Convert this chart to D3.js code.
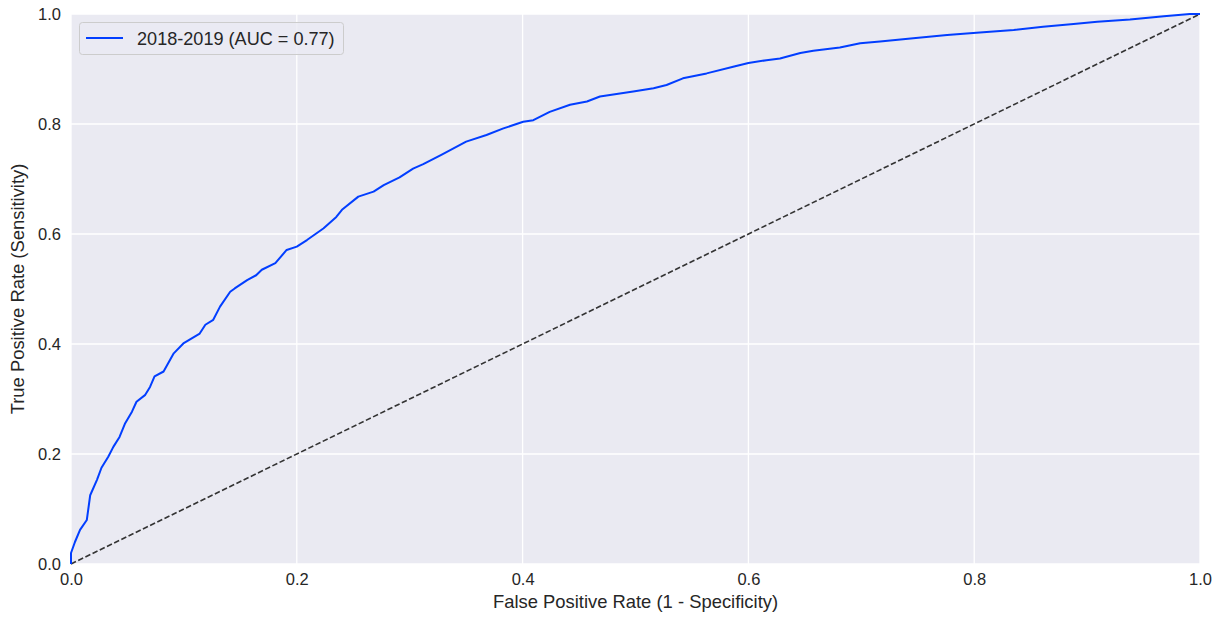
<!DOCTYPE html>
<html>
<head>
<meta charset="utf-8">
<script src="https://cdn.jsdelivr.net/npm/d3@7/dist/d3.min.js"></script>
<style>
  html, body { margin: 0; padding: 0; background: #ffffff; }
  svg { display: block; font-family: "Liberation Sans", Arial, sans-serif; }
</style>
</head>
<body>
<svg id="chart" width="1225" height="617"></svg>
<script>
// ROC curve points
const fpr = [0,0,0.0035,0.008,0.014,0.017,0.023,0.027,0.033,0.0375,0.043,0.048,0.054,0.058,0.0655,0.07,0.074,0.082,0.091,0.0995,0.114,0.119,0.126,0.132,0.141,0.145,0.156,0.164,0.169,0.181,0.191,0.2,0.209,0.2235,0.235,0.24,0.2545,0.268,0.277,0.291,0.303,0.312,0.328,0.35,0.368,0.383,0.4005,0.4095,0.424,0.442,0.457,0.4685,0.498,0.516,0.5275,0.542,0.563,0.5865,0.6,0.616,0.628,0.646,0.6575,0.681,0.699,0.7166,0.746,0.776,0.802,0.835,0.861,0.888,0.909,0.938,0.968,0.991,1];
const tpr = [0,0.02,0.04,0.062,0.08,0.125,0.153,0.175,0.195,0.213,0.231,0.256,0.277,0.295,0.307,0.322,0.341,0.35,0.383,0.401,0.419,0.435,0.444,0.468,0.495,0.501,0.516,0.525,0.535,0.547,0.571,0.577,0.589,0.61,0.631,0.644,0.668,0.677,0.689,0.703,0.719,0.727,0.744,0.768,0.78,0.792,0.804,0.807,0.822,0.835,0.841,0.85,0.859,0.865,0.871,0.883,0.892,0.904,0.911,0.916,0.919,0.929,0.933,0.939,0.947,0.950,0.956,0.962,0.966,0.971,0.977,0.982,0.986,0.990,0.996,1.0,1];
const chanceX = [0, 1];
const chanceY = [0, 1];
const xTicks = [0, 0.2, 0.4, 0.6, 0.8, 1.0];
const yTicks = [0, 0.2, 0.4, 0.6, 0.8, 1.0];
const seriesLabel = "2018-2019 (AUC = 0.77)";
const xLabel = "False Positive Rate (1 - Specificity)";
const yLabel = "True Positive Rate (Sensitivity)";

const svg = d3.select("#chart");
const margin = { left: 71, right: 25, top: 14, bottom: 53 };
const W = 1225, H = 617;
const x = d3.scaleLinear().domain([0, 1]).range([margin.left, W - margin.right]);
const y = d3.scaleLinear().domain([0, 1]).range([H - margin.bottom, margin.top]);

// background
svg.append("rect")
  .attr("x", x(0)).attr("y", y(1))
  .attr("width", x(1) - x(0)).attr("height", y(0) - y(1))
  .attr("fill", "#eaeaf2");

// grid
const grid = svg.append("g");
grid.selectAll(".gx").data(xTicks).join("line")
  .attr("x1", d => x(d)).attr("x2", d => x(d))
  .attr("y1", y(0)).attr("y2", y(1))
  .attr("stroke", "#ffffff").attr("stroke-width", 1.3);
grid.selectAll(".gy").data(yTicks).join("line")
  .attr("x1", x(0)).attr("x2", x(1))
  .attr("y1", d => y(d)).attr("y2", d => y(d))
  .attr("stroke", "#ffffff").attr("stroke-width", 1.3);

// axes
const xAxis = d3.axisBottom(x).tickValues(xTicks).tickFormat(d3.format(".1f")).tickSize(0).tickPadding(9);
const yAxis = d3.axisLeft(y).tickValues(yTicks).tickFormat(d3.format(".1f")).tickSize(0).tickPadding(10);
const gx = svg.append("g").attr("transform", `translate(0,${y(0)})`).call(xAxis);
const gy = svg.append("g").attr("transform", `translate(${x(0)},0)`).call(yAxis);
[gx, gy].forEach(g => {
  g.select(".domain").remove();
  g.selectAll("text").attr("fill", "#262626").style("font-size", "16.5px")
    .style("font-family", "'Liberation Sans', Arial, sans-serif");
});

// axis labels
svg.append("text")
  .attr("x", (x(0) + x(1)) / 2).attr("y", 608)
  .attr("text-anchor", "middle").attr("fill", "#262626")
  .style("font-size", "18.4px").text(xLabel);
svg.append("text")
  .attr("transform", `translate(24,${(y(0) + y(1)) / 2}) rotate(-90)`)
  .attr("text-anchor", "middle").attr("fill", "#262626")
  .style("font-size", "18.4px").text(yLabel);

// chance line
const line = d3.line().x(d => x(d[0])).y(d => y(d[1])).curve(d3.curveLinear);
svg.append("path")
  .datum(chanceX.map((v, i) => [v, chanceY[i]]))
  .attr("d", line)
  .attr("fill", "none").attr("stroke", "#333333")
  .attr("stroke-width", 1.6).attr("stroke-dasharray", "5.5,2.5");

// ROC curve
svg.append("path")
  .datum(fpr.map((v, i) => [v, tpr[i]]))
  .attr("d", line)
  .attr("fill", "none").attr("stroke", "#023eff")
  .attr("stroke-width", 2).attr("stroke-linejoin", "round");

// legend
const lg = svg.append("g");
lg.append("rect")
  .attr("x", 79.5).attr("y", 22.5).attr("width", 264).attr("height", 32).attr("rx", 3)
  .attr("fill", "#eaeaf2").attr("fill-opacity", 0.8)
  .attr("stroke", "#cccccc").attr("stroke-width", 1);
lg.append("line")
  .attr("x1", 86).attr("x2", 123).attr("y1", 38).attr("y2", 38)
  .attr("stroke", "#023eff").attr("stroke-width", 2);
lg.append("text")
  .attr("x", 137).attr("y", 44.5).attr("fill", "#262626")
  .style("font-size", "18.1px").text(seriesLabel);
</script>
</body>
</html>
